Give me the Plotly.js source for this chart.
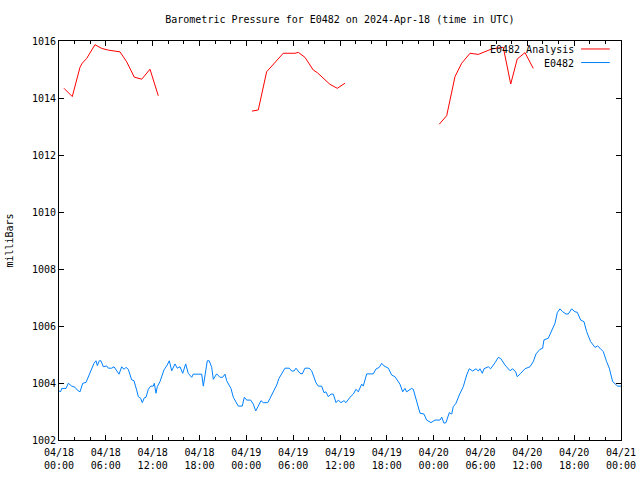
<!DOCTYPE html>
<html>
<head>
<meta charset="utf-8">
<script src="https://cdn.plot.ly/plotly-3.0.1.min.js"></script>
<style>html,body{margin:0;padding:0;background:#fff}#chart{width:640px;height:480px}</style>
</head>
<body>
<div id="chart"></div>
<script>
// Hours after 2024-04-18 00:00 UTC and pressure in millibars
var analysisHours = [0.64,1.70,2.69,2.98,3.55,4.61,5.47,6.32,7.81,8.67,9.65,10.6,11.66,12.72,null,
  24.72,25.53,26.6,27.25,28.1,28.73,30.23,30.66,31.5,32.58,33.09,34.71,35.65,36.64,null,
  48.72,49.67,50.73,51.59,52.66,53.72,55.43,56.71,56.92,57.87,58.71,59.7,60.76];
var analysisValues = [1014.34,1014.05,1015.08,1015.22,1015.39,1015.87,1015.74,1015.68,1015.62,1015.27,1014.73,1014.66,1015.01,1014.08,null,
  1013.54,1013.58,1014.92,1015.12,1015.36,1015.57,1015.57,1015.6,1015.43,1014.98,1014.89,1014.48,1014.34,1014.52,null,
  1013.08,1013.38,1014.75,1015.22,1015.57,1015.53,1015.72,1015.78,1015.78,1014.49,1015.37,1015.59,1015.04];

var stationHours = [0.0,0.22,0.35,0.9,1.19,1.63,2.05,2.34,2.69,3.04,3.46,3.97,4.48,4.74,4.91,5.16,5.38,5.68,6.11,6.32,6.75,7.05,7.39,7.69,8.03,8.33,8.58,8.88,9.31,9.61,9.95,10.16,10.47,10.67,10.93,11.15,11.44,11.75,12.08,12.21,12.43,12.59,12.94,13.45,13.8,14.13,14.44,14.86,15.15,15.5,15.85,16.23,16.56,17.0,17.2,18.28,18.49,18.7,19.0,19.25,19.56,19.77,20.2,20.63,20.97,21.27,21.48,21.78,22.03,22.33,22.67,22.97,23.48,23.74,24.05,24.56,24.89,25.2,25.53,25.88,26.17,26.74,27.03,27.45,27.89,28.18,28.53,28.95,29.5,29.81,30.11,30.36,30.87,31.17,31.51,32.03,32.37,32.67,32.92,33.22,33.65,33.95,34.2,34.5,34.85,35.14,35.49,35.78,36.13,36.51,36.77,37.28,37.7,38.05,38.34,38.78,38.98,39.42,40.26,40.61,41.03,41.34,41.63,42.19,42.62,43.04,43.68,44.03,44.32,44.54,45.18,45.39,45.82,46.25,46.76,47.1,47.66,48.17,48.81,49.03,49.32,49.58,50.0,50.31,50.51,50.86,51.28,51.79,52.23,52.56,53.0,53.42,53.72,53.93,54.23,54.45,55.0,55.3,55.86,56.28,56.59,57.14,57.78,58.12,58.51,58.71,59.15,59.7,60.34,60.76,61.11,61.62,61.96,62.13,62.68,63.12,63.54,63.84,64.18,64.53,64.95,65.24,65.68,66.1,66.4,66.83,67.26,67.6,68.11,68.67,69.01,69.31,69.73,70.16,70.5,70.93,71.23,71.57,72.0];
var stationValues = [1003.72,1003.70,1003.81,1003.81,1003.99,1003.89,1003.85,1003.75,1003.69,1003.99,1004.02,1004.34,1004.69,1004.78,1004.61,1004.78,1004.78,1004.57,1004.60,1004.52,1004.52,1004.57,1004.42,1004.31,1004.57,1004.48,1004.55,1004.48,1004.11,1004.08,1003.75,1003.52,1003.46,1003.31,1003.48,1003.50,1003.78,1003.89,1003.89,1003.99,1003.64,1003.87,1004.05,1004.46,1004.60,1004.78,1004.43,1004.67,1004.52,1004.57,1004.34,1004.67,1004.34,1004.20,1004.31,1004.31,1003.89,1004.34,1004.78,1004.78,1004.55,1004.13,1004.32,1004.20,1004.20,1004.31,1004.08,1003.93,1003.81,1003.50,1003.34,1003.19,1003.19,1003.50,1003.40,1003.40,1003.26,1003.02,1003.19,1003.38,1003.31,1003.31,1003.46,1003.69,1003.93,1004.16,1004.34,1004.52,1004.52,1004.42,1004.42,1004.52,1004.34,1004.32,1004.52,1004.52,1004.43,1004.16,1004.01,1003.89,1003.89,1003.66,1003.69,1003.52,1003.61,1003.61,1003.31,1003.40,1003.31,1003.38,1003.31,1003.50,1003.61,1003.78,1003.69,1003.96,1003.89,1004.32,1004.32,1004.49,1004.55,1004.69,1004.60,1004.52,1004.28,1004.22,1003.96,1003.69,1003.81,1003.69,1003.81,1003.78,1003.31,1002.94,1002.91,1002.70,1002.61,1002.70,1002.70,1002.80,1002.59,1002.61,1002.96,1002.91,1003.17,1003.29,1003.58,1003.87,1004.28,1004.50,1004.42,1004.50,1004.42,1004.50,1004.34,1004.50,1004.57,1004.50,1004.71,1004.90,1004.86,1004.63,1004.43,1004.50,1004.39,1004.22,1004.34,1004.50,1004.57,1004.75,1005.02,1005.18,1005.22,1005.51,1005.57,1005.83,1006.09,1006.47,1006.60,1006.50,1006.42,1006.42,1006.60,1006.50,1006.48,1006.21,1006.15,1005.80,1005.45,1005.25,1005.30,1005.22,1005.10,1004.75,1004.52,1004.05,1003.96,1003.89,1003.89];

var seriesNames = ["E0482 Analysis", "E0482"];
var seriesColors = ["#ff0000", "#0080ff"];

var startMs = Date.UTC(2024, 3, 18, 0, 0);
var HOUR = 3600000;
function toTime(hs) { return hs.map(function (h) { return h === null ? null : startMs + h * HOUR; }); }

var font = {family: "DejaVu Sans Mono, Liberation Mono, monospace", size: 10, color: "#000"};

var traces = [
  {x: toTime(analysisHours), y: analysisValues, type: "scatter", mode: "lines", name: seriesNames[0],
   line: {color: seriesColors[0], width: 1}, connectgaps: false, showlegend: false},
  {x: toTime(stationHours), y: stationValues, type: "scatter", mode: "lines", name: seriesNames[1],
   line: {color: seriesColors[1], width: 1}, showlegend: false}
];

var layout = {
  width: 640, height: 480,
  margin: {l: 59, r: 19, t: 41, b: 40},
  paper_bgcolor: "#fff", plot_bgcolor: "#fff",
  font: font,
  title: {text: "Barometric Pressure for E0482 on 2024-Apr-18 (time in UTC)", font: font, x: 0.531, xanchor: "center", y: 0.96, yanchor: "middle"},
  xaxis: {
    type: "date", range: [startMs, startMs + 72 * HOUR],
    tick0: startMs, dtick: 6 * HOUR, tickformat: "%m/%d<br>%H:%M",
    ticks: "inside", ticklen: 5, tickcolor: "#000",
    minor: {dtick: 2 * HOUR, ticks: "inside", ticklen: 3, tickcolor: "#000"},
    showline: true, linecolor: "#000", linewidth: 1, mirror: "allticks",
    showgrid: false, zeroline: false, tickfont: font, ticklabelstandoff: 3, fixedrange: true
  },
  yaxis: {
    range: [1002, 1016], tick0: 1002, dtick: 2, tickformat: "d",
    ticks: "inside", ticklen: 5, tickcolor: "#000",
    showline: true, linecolor: "#000", linewidth: 1, mirror: "allticks",
    showgrid: false, zeroline: false, tickfont: font,
    title: {text: "milliBars", font: font, standoff: 16}
  },
  annotations: [
    {xref: "paper", yref: "paper", x: 0.92, y: 0.978, xanchor: "right", yanchor: "middle", text: seriesNames[0], showarrow: false, font: font},
    {xref: "paper", yref: "paper", x: 0.92, y: 0.944, xanchor: "right", yanchor: "middle", text: seriesNames[1], showarrow: false, font: font}
  ],
  shapes: [
    {type: "line", xref: "paper", yref: "paper", x0: 0.929, x1: 0.98, y0: 0.98, y1: 0.98, line: {color: seriesColors[0], width: 1}},
    {type: "line", xref: "paper", yref: "paper", x0: 0.929, x1: 0.98, y0: 0.946, y1: 0.946, line: {color: seriesColors[1], width: 1}}
  ]
};

Plotly.newPlot("chart", traces, layout, {staticPlot: true, displayModeBar: false});
</script>
</body>
</html>
